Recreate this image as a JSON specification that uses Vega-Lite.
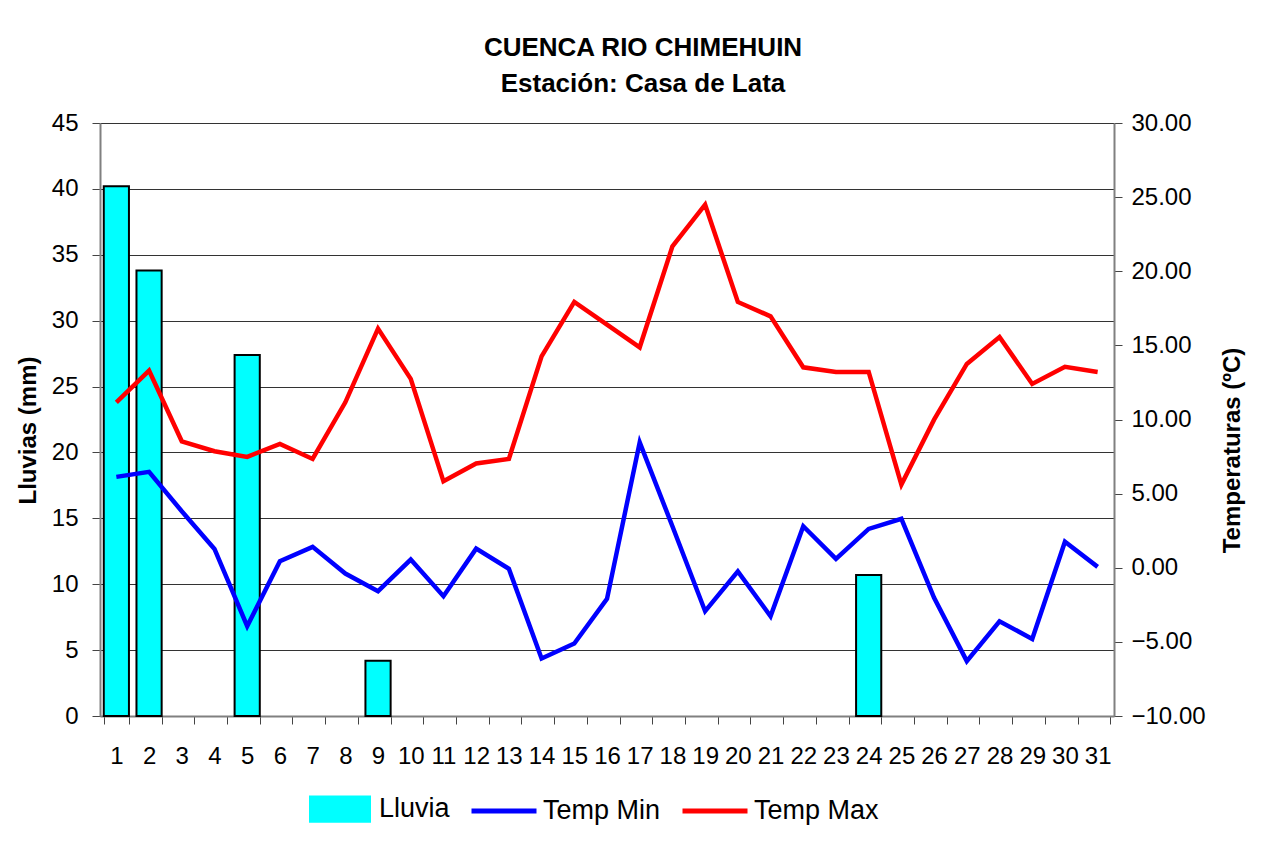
{
  "$schema": "https://vega.github.io/schema/vega-lite/v6.json",
  "autosize": {"type": "none"},
  "padding": {"left": 100, "top": 123, "right": 156, "bottom": 127},
  "width": 1014,
  "height": 593,
  "background": "white",
  "config": {
    "font": "Liberation Sans",
    "view": {"stroke": null},
    "legend": {
      "orient": "none",
      "legendX": 209,
      "legendY": 655,
      "direction": "horizontal",
      "padding": 0,
      "labelFontSize": 27,
      "labelFont": "Liberation Sans",
      "labelColor": "black",
      "labelOffset": 8,
      "columnPadding": 18,
      "symbolSize": 3600,
      "symbolStrokeWidth": 2,
      "symbolStrokeColor": "black"
    }
  },
  "title": {
    "text": ["CUENCA RIO CHIMEHUIN", "Estación: Casa de Lata"],
    "fontSize": 26,
    "fontWeight": "bold",
    "font": "Liberation Sans",
    "color": "black",
    "lineHeight": 36,
    "anchor": "middle",
    "dx": 36,
    "offset": 14
  },
  "data": {
    "values": [
      {"day": 1, "lluvia": 40.2, "tmin": 6.13, "tmax": 11.16},
      {"day": 2, "lluvia": 33.8, "tmin": 6.47, "tmax": 13.3},
      {"day": 3, "lluvia": 0, "tmin": 3.81, "tmax": 8.53},
      {"day": 4, "lluvia": 0, "tmin": 1.27, "tmax": 7.86},
      {"day": 5, "lluvia": 27.4, "tmin": -3.94, "tmax": 7.48},
      {"day": 6, "lluvia": 0, "tmin": 0.44, "tmax": 8.35},
      {"day": 7, "lluvia": 0, "tmin": 1.41, "tmax": 7.34},
      {"day": 8, "lluvia": 0, "tmin": -0.39, "tmax": 11.16},
      {"day": 9, "lluvia": 4.2, "tmin": -1.58, "tmax": 16.13},
      {"day": 10, "lluvia": 0, "tmin": 0.55, "tmax": 12.74},
      {"day": 11, "lluvia": 0, "tmin": -1.92, "tmax": 5.83},
      {"day": 12, "lluvia": 0, "tmin": 1.29, "tmax": 7.03},
      {"day": 13, "lluvia": 0, "tmin": -0.07, "tmax": 7.34},
      {"day": 14, "lluvia": 0, "tmin": -6.12, "tmax": 14.26},
      {"day": 15, "lluvia": 0, "tmin": -5.11, "tmax": 17.93},
      {"day": 16, "lluvia": 0, "tmin": -2.1, "tmax": 16.4},
      {"day": 17, "lluvia": 0, "tmin": 8.46, "tmax": 14.87},
      {"day": 18, "lluvia": 0, "tmin": 2.8, "tmax": 21.68},
      {"day": 19, "lluvia": 0, "tmin": -2.93, "tmax": 24.49},
      {"day": 20, "lluvia": 0, "tmin": -0.24, "tmax": 17.93},
      {"day": 21, "lluvia": 0, "tmin": -3.27, "tmax": 16.96},
      {"day": 22, "lluvia": 0, "tmin": 2.8, "tmax": 13.52},
      {"day": 23, "lluvia": 0, "tmin": 0.6, "tmax": 13.21},
      {"day": 24, "lluvia": 10.7, "tmin": 2.62, "tmax": 13.21},
      {"day": 25, "lluvia": 0, "tmin": 3.3, "tmax": 5.61},
      {"day": 26, "lluvia": 0, "tmin": -2.03, "tmax": 9.99},
      {"day": 27, "lluvia": 0, "tmin": -6.3, "tmax": 13.75},
      {"day": 28, "lluvia": 0, "tmin": -3.61, "tmax": 15.57},
      {"day": 29, "lluvia": 0, "tmin": -4.8, "tmax": 12.4},
      {"day": 30, "lluvia": 0, "tmin": 1.75, "tmax": 13.55},
      {"day": 31, "lluvia": 0, "tmin": 0.06, "tmax": 13.21}
    ]
  },
  "layer": [
    {
      "transform": [{"filter": "datum.lluvia > 0"}],
      "mark": {"type": "bar", "stroke": "black", "strokeWidth": 2},
      "encoding": {
        "x": {
          "field": "day",
          "type": "ordinal",
          "scale": {"paddingInner": 0.23, "paddingOuter": 0.115},
          "axis": {
            "title": null,
            "labelAngle": 0,
            "labelFontSize": 24,
            "labelColor": "black",
            "labelFont": "Liberation Sans",
            "labelPadding": 20,
            "labelOverlap": false,
            "tickSize": 8,
            "tickBand": "extent",
            "tickColor": "#444444",
            "domainColor": "#808080",
            "domainWidth": 2
          }
        },
        "y": {
          "field": "lluvia",
          "type": "quantitative",
          "scale": {"domain": [0, 45], "nice": false},
          "axis": {
            "orient": "left",
            "values": [0, 5, 10, 15, 20, 25, 30, 35, 40, 45],
            "labelFontSize": 24,
            "labelColor": "black",
            "labelFont": "Liberation Sans",
            "labelPadding": 14,
            "tickSize": 8,
            "tickColor": "#444444",
            "domainColor": "#808080",
            "domainWidth": 2,
            "grid": true,
            "gridColor": "#333333",
            "gridWidth": 1,
            "title": "Lluvias (mm)",
            "titleFontSize": 24,
            "titleFontWeight": "bold",
            "titleFont": "Liberation Sans",
            "titleColor": "black",
            "titleAngle": 270,
            "titleX": -72,
            "titleY": 307,
            "titleAlign": "center",
            "titleBaseline": "middle"
          }
        },
        "color": {
          "datum": "Lluvia",
          "type": "nominal",
          "scale": {
            "domain": ["Lluvia", "tmin", "tmax"],
            "range": ["#00FFFF", "#0000FF", "#FF0000"]
          },
          "legend": {
            "title": null,
            "symbolSize": 3600,
            "symbolStrokeWidth": 2,
            "symbolStrokeColor": "black",
            "labelExpr": "datum.value == 'tmin' ? 'Temp Min' : (datum.value == 'tmax' ? 'Temp Max' : 'Lluvia')",
            "encode": {
              "symbols": {
                "update": {
                  "shape": {"signal": "datum.value == 'Lluvia' ? 'M-1,-0.42H1V0.42H-1Z' : 'M-1.05,-0.05H1.05V0.05H-1.05Z'"},
                  "fill": {"signal": "datum.value == 'Lluvia' ? '#00FFFF' : (datum.value == 'tmin' ? '#0000FF' : '#FF0000')"},
                  "stroke": {"signal": "datum.value == 'Lluvia' ? '#000000' : (datum.value == 'tmin' ? '#0000FF' : '#FF0000')"},
                  "strokeWidth": {"value": 2},
                  "opacity": {"value": 1},
                  "fillOpacity": {"value": 1},
                  "strokeOpacity": {"value": 1}
                }
              }
            }
          }
        }
      }
    },
    {
      "transform": [{"fold": ["tmin", "tmax"], "as": ["serie", "temp"]}],
      "mark": {"type": "line", "strokeWidth": 4.5},
      "encoding": {
        "x": {"field": "day", "type": "ordinal"},
        "y": {
          "field": "temp",
          "type": "quantitative",
          "scale": {"domain": [-10, 30], "nice": false},
          "axis": {
            "orient": "right",
            "values": [-10, -5, 0, 5, 10, 15, 20, 25, 30],
            "format": ".2f",
            "labelFontSize": 24,
            "labelColor": "black",
            "labelFont": "Liberation Sans",
            "labelPadding": 9,
            "tickSize": 8,
            "tickColor": "#444444",
            "domainColor": "#808080",
            "domainWidth": 2,
            "grid": false,
            "title": "Temperaturas (ºC)",
            "titleFontSize": 24,
            "titleFontWeight": "bold",
            "titleFont": "Liberation Sans",
            "titleColor": "black",
            "titleAngle": 270,
            "titleX": 118,
            "titleY": 327,
            "titleAlign": "center",
            "titleBaseline": "middle"
          }
        },
        "color": {
          "field": "serie",
          "type": "nominal",
          "legend": {
            "title": null,
            "symbolSize": 3600,
            "symbolStrokeWidth": 2,
            "symbolStrokeColor": "black",
            "labelExpr": "datum.value == 'tmin' ? 'Temp Min' : (datum.value == 'tmax' ? 'Temp Max' : 'Lluvia')",
            "encode": {
              "symbols": {
                "update": {
                  "shape": {"signal": "datum.value == 'Lluvia' ? 'M-1,-0.42H1V0.42H-1Z' : 'M-1.05,-0.05H1.05V0.05H-1.05Z'"},
                  "fill": {"signal": "datum.value == 'Lluvia' ? '#00FFFF' : (datum.value == 'tmin' ? '#0000FF' : '#FF0000')"},
                  "stroke": {"signal": "datum.value == 'Lluvia' ? '#000000' : (datum.value == 'tmin' ? '#0000FF' : '#FF0000')"},
                  "strokeWidth": {"value": 2},
                  "opacity": {"value": 1},
                  "fillOpacity": {"value": 1},
                  "strokeOpacity": {"value": 1}
                }
              }
            }
          }
        }
      }
    }
  ],
  "resolve": {"scale": {"y": "independent"}}
}
